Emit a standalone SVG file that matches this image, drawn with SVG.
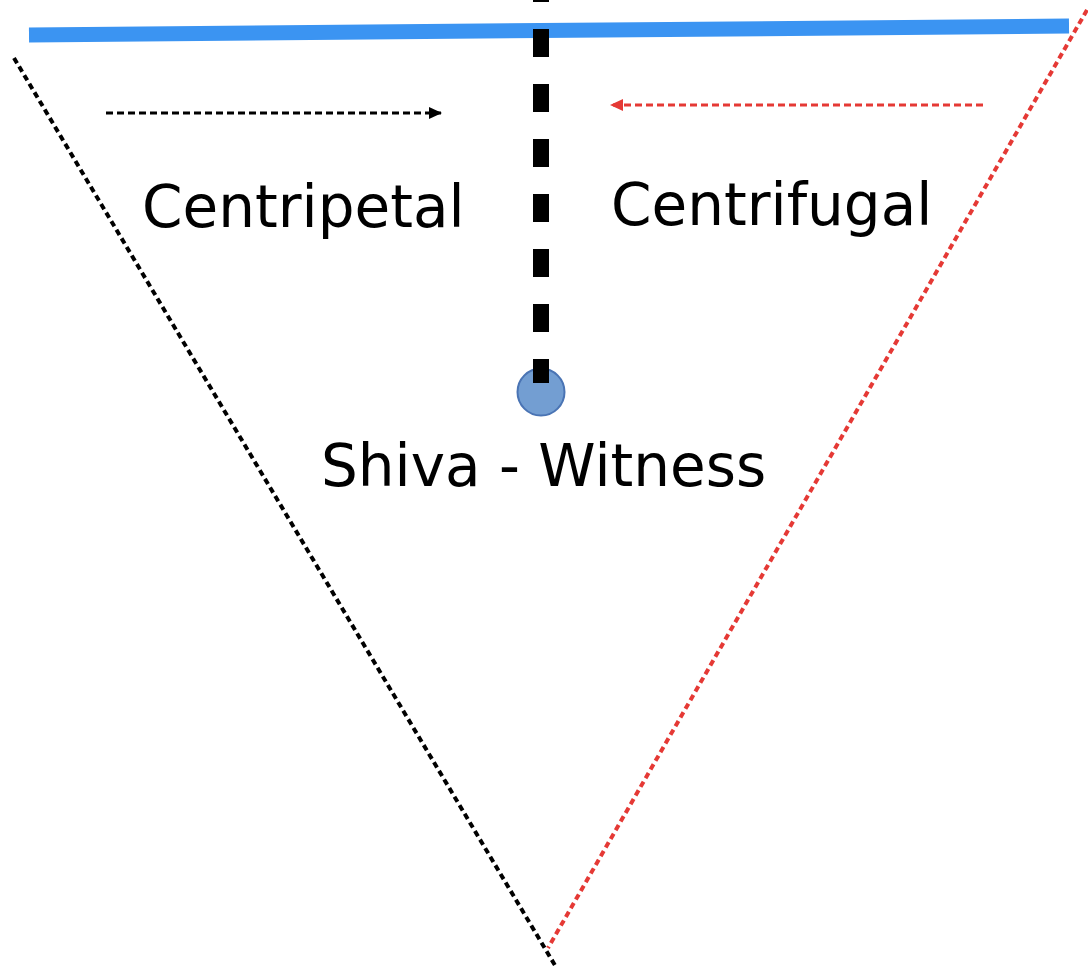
<svg xmlns="http://www.w3.org/2000/svg" width="1088" height="970" viewBox="0 0 1088 970">
<style>
.lbl{font-family:"DejaVu Sans",sans-serif;font-size:58px;fill:#000}
.edge{fill:none;stroke-width:4;stroke-dasharray:6 4}
.arr{fill:none;stroke-width:3;stroke-dasharray:7 4}
</style>
<defs>
<marker id="hb" markerWidth="13" markerHeight="12" refX="12" refY="6" orient="auto" markerUnits="userSpaceOnUse"><path d="M0,0 L13,6 L0,12 Z" fill="#000"/></marker>
<marker id="hr" markerWidth="13" markerHeight="12" refX="12" refY="6" orient="auto" markerUnits="userSpaceOnUse"><path d="M0,0 L13,6 L0,12 Z" fill="#e53935"/></marker>
</defs>
<rect width="1088" height="970" fill="#fff"/>
<g id="connectors">
<path d="M14,58 L556,967" class="edge" stroke="#000"/>
<path d="M1087,10 L548,948" class="edge" stroke="#e53935"/>
<path d="M29,35 L1069,26" stroke="#3b94f2" stroke-width="15" fill="none"/>
<path d="M106,113 L441,113" class="arr" stroke="#000" marker-end="url(#hb)"/>
<path d="M983,105 L611,105" class="arr" stroke="#e53935" marker-end="url(#hr)"/>
</g>
<g id="shiva">
<circle cx="541" cy="392" r="23.5" fill="#739ed2" stroke="#4a74b4" stroke-width="2"/>
<path d="M541,-26 L541,383" stroke="#000" stroke-width="16" stroke-dasharray="28 27" fill="none"/>
<text x="321" y="486" class="lbl">Shiva - Witness</text>
</g>
<g id="centripetal"><text x="142" y="227" class="lbl">Centripetal</text></g>
<g id="centrifugal"><text x="611" y="225" class="lbl">Centrifugal</text></g>
</svg>
